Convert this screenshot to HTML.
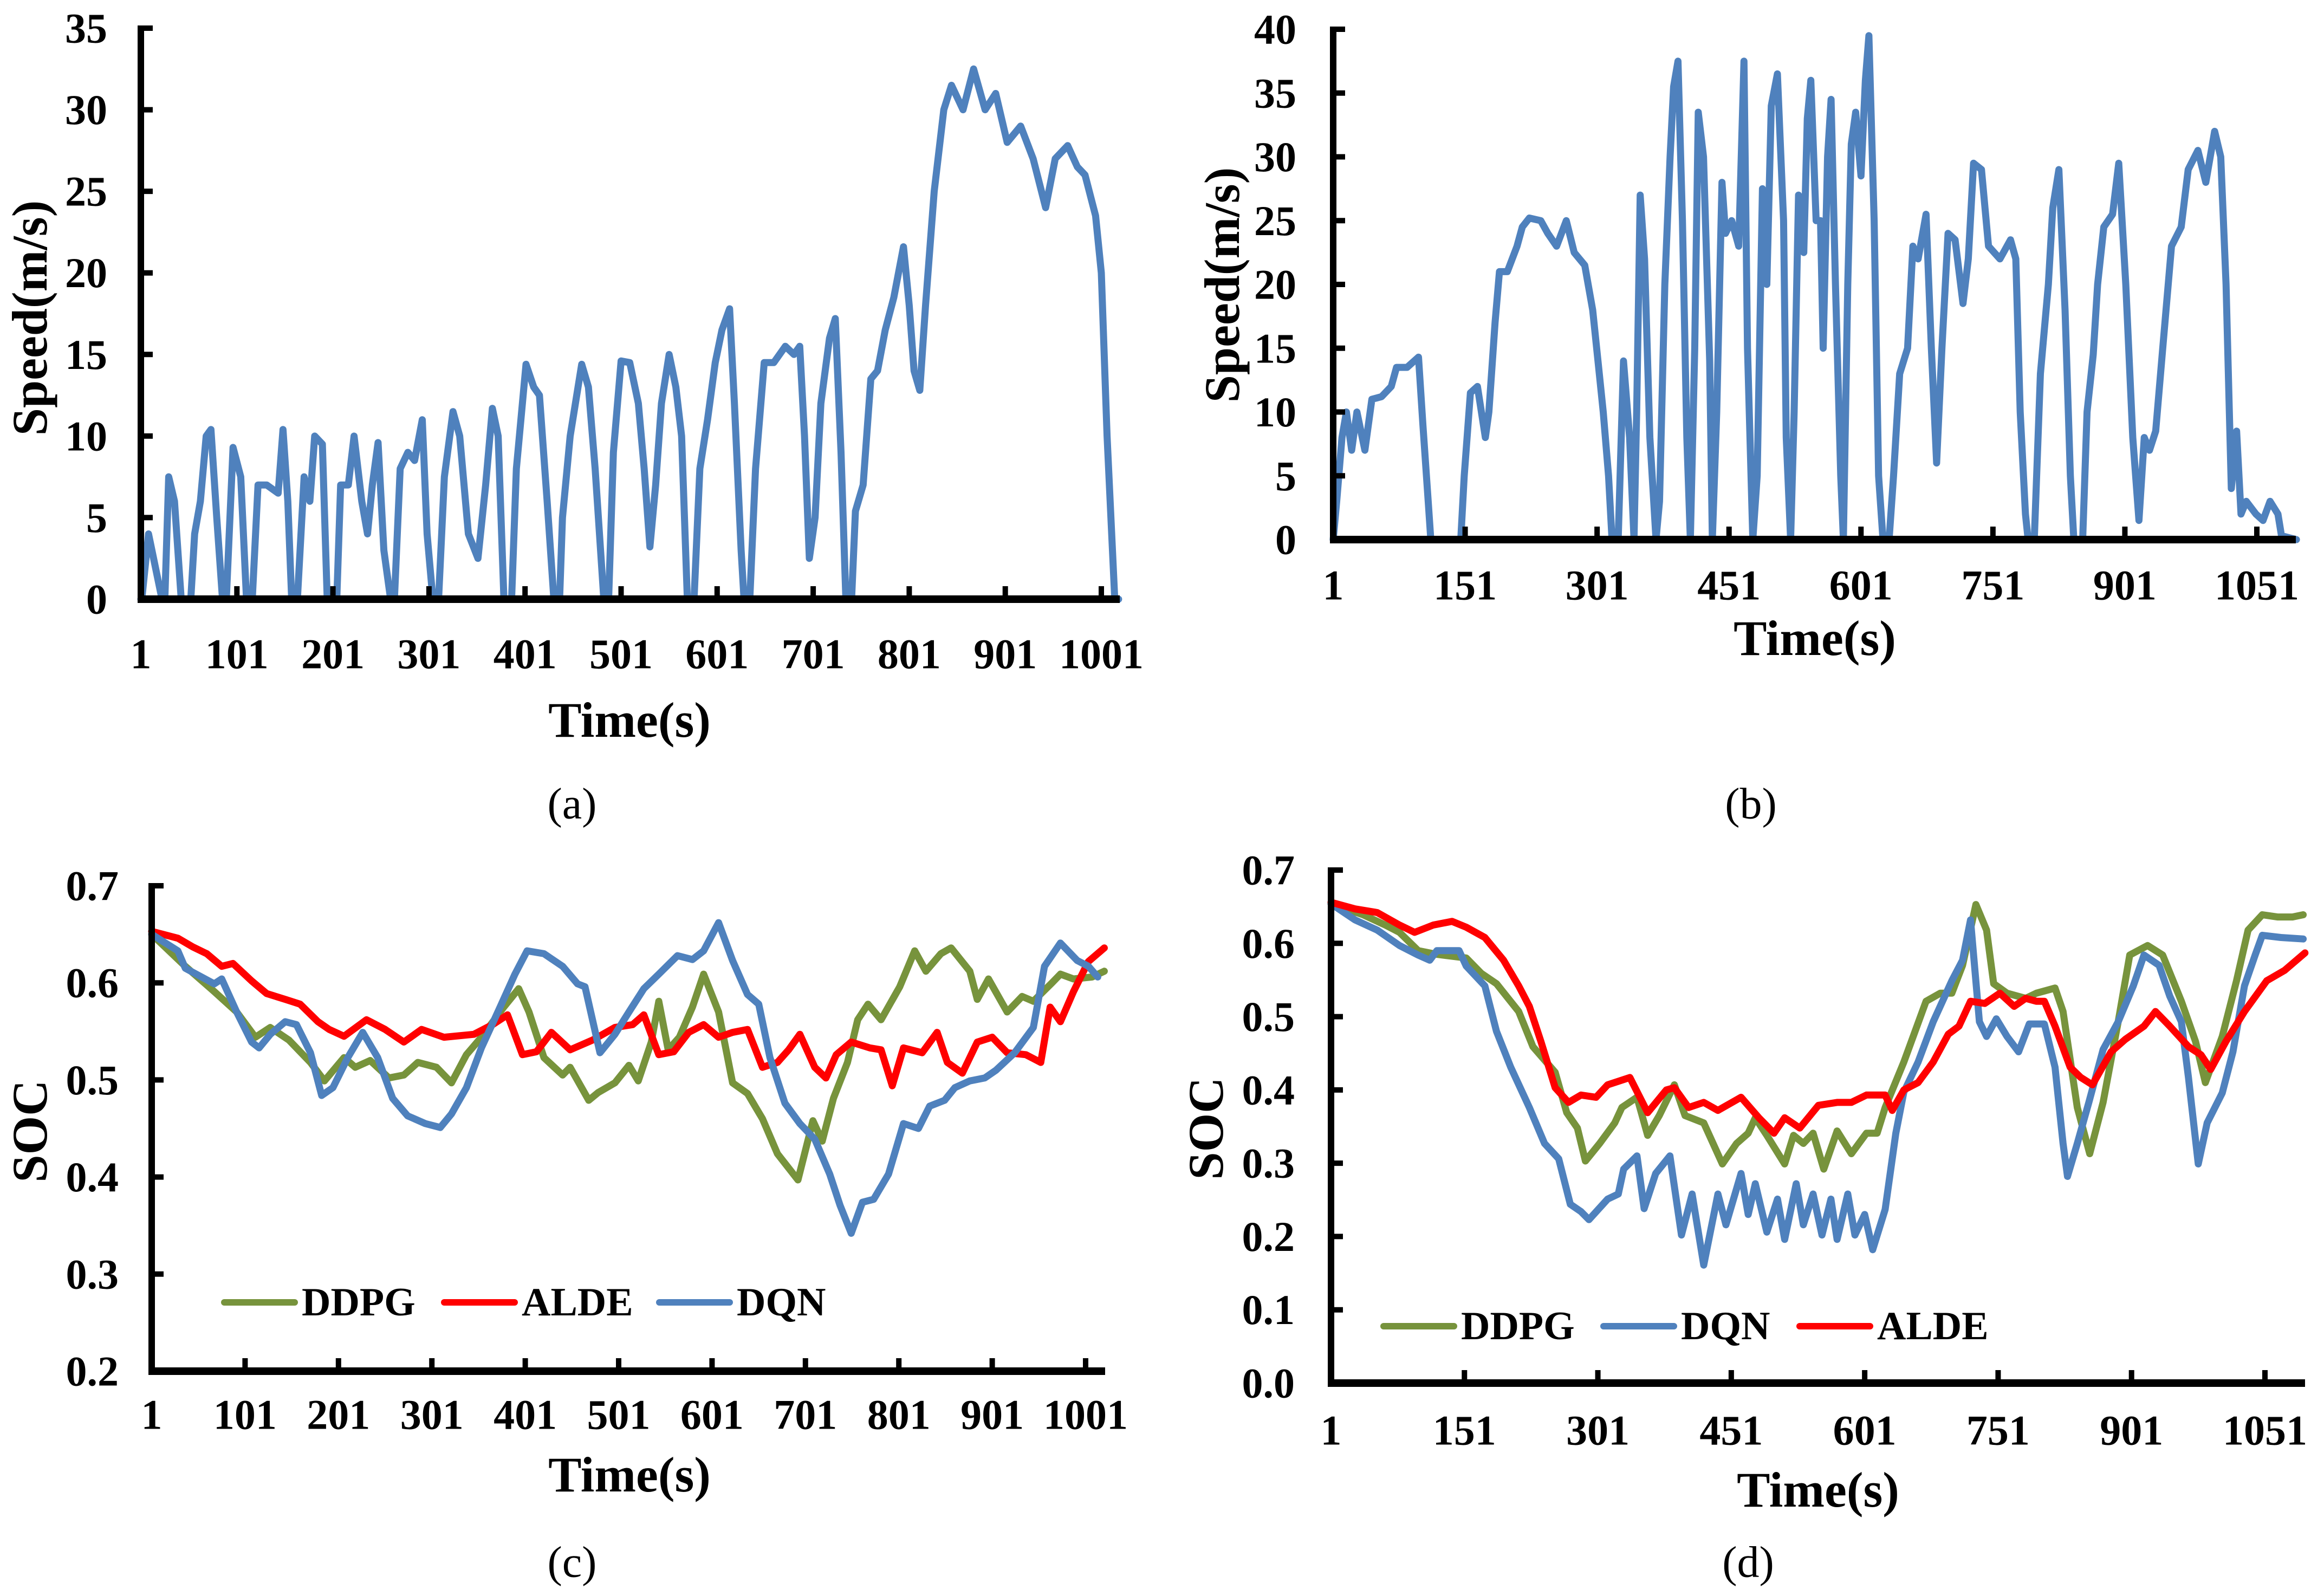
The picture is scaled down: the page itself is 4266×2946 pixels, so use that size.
<!DOCTYPE html>
<html><head><meta charset="utf-8">
<style>
html,body{margin:0;padding:0;background:#fff;}
svg{display:block;}
text{font-family:"Liberation Serif",serif;font-weight:bold;fill:#000;}
</style></head>
<body>
<svg id="fig" width="4266" height="2946" viewBox="0 0 4266 2946" xmlns="http://www.w3.org/2000/svg"></svg>
<script>
// ---------- Panel (a) data ----------
const aTime=[1,2,9,16,23,26,30,36,43,53,57,63,69,74,80,86,90,97,105,111,117,123,132,144,149,154,158,164,171,177,182,190,195,205,209,217,223,231,237,242,248,254,261,265,271,279,286,294,299,305,311,317,326,333,342,352,360,367,373,379,387,392,402,410,416,424,431,437,440,448,460,467,474,483,488,493,501,510,519,525,531,537,543,551,558,564,570,577,583,591,599,606,614,619,626,629,635,641,650,660,672,681,687,692,697,703,709,718,724,730,735,741,745,753,761,768,776,785,795,801,806,812,818,827,837,845,857,868,880,891,903,917,930,943,953,966,976,984,995,1001,1007,1015,1019];
const aSpeed=[0,0,4,2,0,0,7.5,6,0,0,4,6,10,10.4,5,0,0,9.3,7.5,0,0,7,7,6.5,10.4,6,0,0,7.5,6,10,9.5,0,0,7,7,10,6,4,7,9.6,3,0,0,8,9,8.5,11,4,0,0,7.5,11.5,10,4,2.5,7,11.7,10,0,0,8,14.4,13,12.5,6,0,0,5,10,14.4,13,8,0,0,9,14.6,14.5,12,8,3.2,7,12,15,13,10,0,0,8,11,14.5,16.5,17.8,12,3,0,0,8,14.5,14.5,15.5,15,15.5,10,2.5,5,12,16,17.2,9,0,0,5.4,7,13.5,14,16.5,18.5,21.6,18,14,12.8,18,25,30,31.5,30,32.5,30,31,28,29,27,24,27,27.8,26.5,26,23.5,20,10,0,0];
const aYTicks=[0,5,10,15,20,25,30,35];
const aXTicks=[1,101,201,301,401,501,601,701,801,901,1001];

// ---------- Panel (b) data ----------
const bTime=[1,5,11,16,22,28,37,45,56,67,73,85,98,103,109,112,146,150,157,165,174,178,185,190,199,210,216,224,237,245,255,266,275,287,296,302,308,314,318,325,331,338,343,346,350,355,361,368,372,378,384,388,393,398,403,407,412,416,422,429,432,437,443,447,454,462,468,472,478,483,489,494,499,506,513,516,521,525,530,536,540,544,550,555,558,563,567,572,578,581,586,590,595,601,606,610,616,621,626,633,638,645,654,660,666,675,681,687,693,700,708,717,723,729,738,746,759,771,777,782,788,791,798,805,814,819,826,833,839,843,853,858,865,870,877,887,894,902,910,917,923,929,936,944,954,965,973,984,993,1003,1010,1016,1022,1028,1033,1039,1050,1058,1066,1075,1079,1096];
const bSpeed=[0,3,8,10,7,10,7,11,11.2,12,13.5,13.5,14.3,9,3,0,0,5,11.5,12,8,10,17,21,21,23,24.5,25.2,25,24,23,25,22.5,21.5,18,14,10,5,0,0,14,8,0,10,27,22,8,0,3,20,30,35.5,37.5,25,8,0,15,33.5,30,14,0,10,28,24,25,23,37.5,15,0,5,27.5,20,34,36.5,25,8,0,10,27,22.5,33,36,25,25,15,30,34.5,20,5,0,20,31,33.5,28.5,36,39.5,25,5,0,0,5,13,15,23,22,25.5,15,6,15,24,23.5,18.5,22,29.5,29,23,22,23.5,22,10,2,0,0,13,20,26,29,18,5,0,0,10,14.5,20,24.5,25.5,29.5,20,8,1.5,8,7,8.5,15,23,24.5,29,30.5,28,32,30,20,4,8.5,2,3,2,1.5,3,2,0.3,0];
const bYTicks=[0,5,10,15,20,25,30,35,40];
const bXTicks=[1,151,301,451,601,751,901,1051];

// ---------- Panel (c) data ----------
const cDdpgT=[1,37,68,92,112,128,148,171,186,207,219,235,255,271,286,306,322,338,354,378,394,405,421,441,449,469,479,497,512,522,536,544,554,566,580,592,608,623,639,655,671,693,709,719,731,746,757,768,782,802,818,830,846,857,877,885,897,917,933,945,965,974,988,1008,1021];
const cDdpgV=[0.650,0.617,0.591,0.570,0.544,0.554,0.541,0.518,0.499,0.523,0.513,0.520,0.502,0.505,0.518,0.513,0.497,0.526,0.544,0.575,0.594,0.570,0.523,0.505,0.513,0.479,0.487,0.497,0.515,0.499,0.539,0.581,0.531,0.544,0.575,0.609,0.570,0.497,0.486,0.460,0.424,0.397,0.458,0.437,0.481,0.518,0.562,0.578,0.562,0.596,0.633,0.612,0.630,0.636,0.612,0.583,0.604,0.570,0.586,0.581,0.600,0.609,0.604,0.606,0.612];
const cAldeT=[1,29,45,60,76,88,108,124,144,160,179,191,207,231,251,271,290,314,346,366,382,398,413,429,449,473,497,516,528,544,560,576,592,608,623,639,655,671,683,695,711,723,734,750,770,782,794,806,826,842,853,869,885,901,917,937,953,963,974,988,1004,1021];
const cAldeV=[0.653,0.646,0.637,0.630,0.617,0.620,0.602,0.589,0.583,0.578,0.560,0.552,0.545,0.562,0.552,0.539,0.552,0.544,0.547,0.557,0.567,0.526,0.529,0.549,0.531,0.541,0.554,0.557,0.567,0.526,0.529,0.549,0.557,0.544,0.549,0.552,0.513,0.518,0.531,0.547,0.513,0.502,0.526,0.539,0.533,0.531,0.494,0.533,0.528,0.549,0.518,0.507,0.539,0.544,0.528,0.526,0.518,0.575,0.560,0.591,0.622,0.636];
const cDqnT=[1,29,37,68,76,92,108,116,128,144,156,171,183,195,211,227,243,259,275,294,310,322,338,354,374,390,403,421,441,457,465,481,497,512,528,544,564,580,592,608,623,639,651,663,679,695,711,727,738,750,762,774,790,806,822,834,850,861,877,893,905,925,945,957,974,992,1004,1014];
const cDqnV=[0.650,0.633,0.615,0.599,0.604,0.570,0.539,0.533,0.547,0.560,0.557,0.528,0.484,0.492,0.523,0.549,0.523,0.481,0.463,0.455,0.451,0.465,0.492,0.533,0.575,0.609,0.633,0.630,0.617,0.599,0.596,0.528,0.547,0.570,0.594,0.609,0.628,0.624,0.633,0.662,0.623,0.588,0.578,0.523,0.476,0.455,0.439,0.403,0.371,0.342,0.374,0.377,0.403,0.455,0.450,0.473,0.479,0.492,0.499,0.502,0.510,0.528,0.554,0.617,0.641,0.623,0.617,0.606];
const cYTicks=[0.2,0.3,0.4,0.5,0.6,0.7];
const cXTicks=[1,101,201,301,401,501,601,701,801,901,1001];

// ---------- Panel (d) data ----------
const dDdpgT=[1,37,62,78,99,120,153,170,187,212,228,253,266,278,287,303,320,328,345,357,370,387,399,420,441,457,470,478,491,511,521,532,543,555,570,586,603,615,624,645,670,686,699,711,726,738,746,761,782,794,815,824,840,854,869,886,899,919,936,957,973,984,1003,1019,1032,1048,1065,1082,1094];
const dDdpgV=[0.654,0.639,0.625,0.615,0.590,0.585,0.580,0.559,0.545,0.507,0.459,0.424,0.369,0.348,0.303,0.327,0.355,0.376,0.390,0.338,0.365,0.407,0.365,0.355,0.299,0.327,0.341,0.362,0.338,0.299,0.338,0.327,0.341,0.292,0.344,0.313,0.341,0.341,0.376,0.438,0.521,0.532,0.532,0.570,0.653,0.618,0.545,0.532,0.525,0.532,0.539,0.507,0.376,0.313,0.383,0.493,0.584,0.597,0.584,0.521,0.466,0.410,0.473,0.549,0.618,0.639,0.636,0.636,0.639];
const dDqnT=[1,28,53,78,99,112,120,145,153,174,187,203,224,241,257,270,282,291,312,324,330,345,353,366,382,395,407,420,436,445,462,470,478,491,503,511,524,532,543,553,563,570,582,590,601,610,624,636,645,661,678,699,711,720,730,738,749,761,774,786,803,815,824,829,840,853,869,886,903,915,932,944,957,965,976,986,1003,1015,1028,1040,1048,1069,1094];
const dDqnV=[0.654,0.632,0.618,0.597,0.584,0.577,0.590,0.590,0.569,0.542,0.480,0.431,0.376,0.327,0.306,0.244,0.234,0.223,0.251,0.258,0.292,0.310,0.238,0.286,0.310,0.202,0.258,0.161,0.258,0.216,0.286,0.230,0.272,0.206,0.251,0.196,0.272,0.216,0.258,0.202,0.251,0.196,0.258,0.202,0.230,0.182,0.237,0.341,0.397,0.438,0.493,0.549,0.577,0.632,0.493,0.473,0.497,0.473,0.452,0.490,0.490,0.431,0.327,0.282,0.327,0.383,0.455,0.493,0.542,0.584,0.570,0.528,0.493,0.417,0.299,0.355,0.396,0.452,0.542,0.584,0.611,0.608,0.606];
const dAldeT=[1,28,53,78,95,116,137,153,174,195,212,224,237,253,268,282,299,312,337,357,378,387,403,420,436,462,482,499,511,528,549,570,586,603,624,632,645,661,678,695,707,720,736,753,769,782,794,803,815,832,844,857,878,894,915,928,944,965,979,990,1007,1028,1053,1073,1096];
const dAldeV=[0.656,0.647,0.642,0.625,0.615,0.625,0.630,0.622,0.608,0.577,0.542,0.514,0.466,0.403,0.383,0.393,0.390,0.407,0.417,0.369,0.400,0.403,0.376,0.383,0.372,0.390,0.362,0.341,0.362,0.348,0.379,0.383,0.383,0.393,0.393,0.372,0.400,0.410,0.438,0.476,0.487,0.521,0.518,0.532,0.514,0.525,0.521,0.521,0.487,0.431,0.417,0.407,0.452,0.469,0.487,0.507,0.487,0.459,0.448,0.428,0.466,0.507,0.549,0.563,0.587];
const dYTicks=[0,0.1,0.2,0.3,0.4,0.5,0.6,0.7];
const dXTicks=[1,151,301,451,601,751,901,1051];

const NS='http://www.w3.org/2000/svg';
const svg=document.getElementById('fig');
function mk(tag,attrs,parent){const e=document.createElementNS(NS,tag);for(const k in attrs)e.setAttribute(k,attrs[k]);(parent||svg).appendChild(e);return e;}
function txt(str,x,y,size,anchor,parent,rot){const t=mk('text',{x:x,y:y,'font-size':size,'text-anchor':anchor||'middle','dominant-baseline':'central'},parent);if(rot)t.setAttribute('transform','rotate(-90 '+x+' '+y+')');t.textContent=str;return t;}

function panel(cfg){
  const g=mk('g',{});
  
  
  const sx=v=>cfg.x0+(v-cfg.t0)*(cfg.x1-cfg.x0)/(cfg.t1-cfg.t0);
  const sy=v=>cfg.yb+(v-cfg.v0)*(cfg.yt-cfg.yb)/(cfg.v1-cfg.v0);
  cfg.series.forEach(s=>{
    let d='';
    s.t.forEach((t,i)=>{d+=(i?'L':'M')+sx(t).toFixed(1)+' '+sy(s.v[i]).toFixed(1);});
    const p=mk('path',{d:d,fill:'none',stroke:s.color,'stroke-width':13,'stroke-linejoin':'round','stroke-linecap':'round'},g);
    
    
  });
  const ya=mk('line',{x1:cfg.x0,y1:cfg.yt-5,x2:cfg.x0,y2:cfg.yb+6,stroke:'#000','stroke-width':12},g);
  
  
  const xa=mk('line',{x1:cfg.x0-6,y1:cfg.yb,x2:cfg.xend,y2:cfg.yb,stroke:'#000','stroke-width':14},g);
  
  
  cfg.yTicks.forEach(v=>{
    const y=sy(v);
    mk('line',{x1:cfg.x0,y1:y,x2:cfg.x0+22,y2:y,stroke:'#000','stroke-width':10},g);
    const t=txt(v.toFixed(cfg.dec),cfg.yLabX,y,78,'end',g);
    
    
  });
  cfg.xTicks.forEach(v=>{
    const x=sx(v);
    mk('line',{x1:x,y1:cfg.yb,x2:x,y2:cfg.yb-24,stroke:'#000','stroke-width':10},g);
    const t=txt(String(v),x,cfg.xLabY,78,'middle',g);
    
    
  });
  const xt=txt('Time(s)',cfg.xTitle[0],cfg.xTitle[1],92,'middle',g);
  
  
  const yt=txt(cfg.yTitleText,cfg.yTitle[0],cfg.yTitle[1],92,'middle',g,true);
  
  
  const cap=mk('text',{x:cfg.cap[0],y:cfg.cap[1],'font-size':82,'text-anchor':'middle','dominant-baseline':'central',style:'font-weight:normal'},g);
  cap.textContent=cfg.capText;
  
  
  if(cfg.legend){
    cfg.legend.forEach(L=>{
      const lg=mk('g',{},g);
      
      
      mk('line',{x1:L.x,y1:cfg.legY,x2:L.x+130,y2:cfg.legY,stroke:L.color,'stroke-width':12,'stroke-linecap':'round'},lg);
      txt(L.label,L.x+143,cfg.legY,74,'start',lg);
    });
  }
}

const BLUE='#4f81bd',GREEN='#77933c',RED='#ff0000';
panel({name:'panel-a-speed',x0:260,x1:2033,t0:1,t1:1001,xend:2067,yb:1106,yt:52,v0:0,v1:35,dec:0,
  yTicks:aYTicks,xTicks:aXTicks,yLabX:198,xLabY:1207,xTitle:[1162,1329],yTitle:[55,587],yTitleText:'Speed(m/s)',cap:[1056,1483],capText:'(a)',
  series:[{id:'speed',t:aTime,v:aSpeed,color:BLUE}]});
panel({name:'panel-b-speed',x0:2461,x1:4166,t0:1,t1:1051,xend:4238,yb:996,yt:54,v0:0,v1:40,dec:0,
  yTicks:bYTicks,xTicks:bXTicks,yLabX:2393,xLabY:1080,xTitle:[3350,1178],yTitle:[2256,526],yTitleText:'Speed(m/s)',cap:[3232,1483],capText:'(b)',
  series:[{id:'speed',t:bTime,v:bSpeed,color:BLUE}]});
panel({name:'panel-c-soc',x0:280,x1:2004,t0:1,t1:1001,xend:2040,yb:2531,yt:1635,v0:0.2,v1:0.7,dec:1,
  yTicks:cYTicks,xTicks:cXTicks,yLabX:219,xLabY:2611,xTitle:[1162,2722],yTitle:[55,2088],yTitleText:'SOC',cap:[1056,2883],capText:'(c)',
  legY:2404,legend:[{x:414,label:'DDPG',color:GREEN},{x:820,label:'ALDE',color:RED},{x:1217,label:'DQN',color:BLUE}],
  series:[{id:'ddpg',t:cDdpgT,v:cDdpgV,color:GREEN},{id:'alde',t:cAldeT,v:cAldeV,color:RED},{id:'dqn',t:cDqnT,v:cDqnV,color:BLUE}]});
panel({name:'panel-d-soc',x0:2457,x1:4181,t0:1,t1:1051,xend:4255,yb:2553,yt:1606,v0:0,v1:0.7,dec:1,
  yTicks:dYTicks,xTicks:dXTicks,yLabX:2390,xLabY:2640,xTitle:[3356,2750],yTitle:[2226,2083],yTitleText:'SOC',cap:[3227,2883],capText:'(d)',
  legY:2448,legend:[{x:2554,label:'DDPG',color:GREEN},{x:2960,label:'DQN',color:BLUE},{x:3322,label:'ALDE',color:RED}],
  series:[{id:'ddpg',t:dDdpgT,v:dDdpgV,color:GREEN},{id:'dqn',t:dDqnT,v:dDqnV,color:BLUE},{id:'alde',t:dAldeT,v:dAldeV,color:RED}]});
</script>
</body></html>
